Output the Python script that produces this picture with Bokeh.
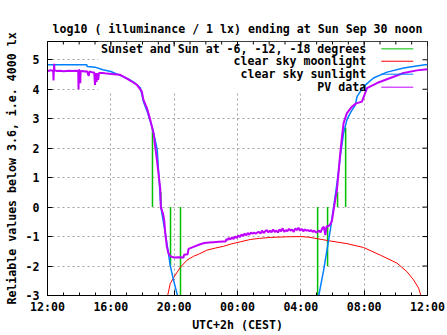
from bokeh.plotting import figure
from bokeh.models import Range1d, FixedTicker
from bokeh.embed import file_html
from bokeh.resources import INLINE
from bokeh.core.properties import value

# ---------------- data (x in hours since Sat 00:00, 12 = 12:00, 36 = next 12:00) ----------------
title_text = "log10 ( illuminance / 1 lx) ending at Sun Sep 30 noon"
x_label = "UTC+2h (CEST)"
y_label = "Reliable values below 3.6, i.e. 4000 lx"

tick_hours = [12, 16, 20, 24, 28, 32, 36]
tick_labels = ["12:00", "16:00", "20:00", "00:00", "04:00", "08:00", "12:00"]
minor_hours = list(range(12, 37))
y_ticks = [-3, -2, -1, 0, 1, 2, 3, 4, 5]
y_tick_labels = ["-3", "-2", "-1", "0", "1", "2", "3", "4", "5"]

# Sunset / sunrise and sun at -6, -12, -18 degrees (impulse-like markers)
event_hours = [18.63, 19.16, 19.77, 20.40, 29.06, 29.69, 30.32, 30.83]
event_low = [0, 0, 0, 0, 0, 0, 0, 0]
event_high = [2.7, 0.5, -2.0, -3.3, -3.3, -2.0, 0.5, 2.7]

# clear sky moonlight
moon_hours = [19.55, 19.75, 19.96, 20.38, 20.81, 21.22, 21.54, 22.07, 22.6, 23.12, 23.6,
              24.17, 24.8, 25.4, 26.07, 27.0, 27.96, 28.5, 29.02, 29.86, 30.91, 31.96,
              33.02, 34.07, 34.70, 35.12, 35.44, 35.61]
moon_vals = [-3.1, -2.6, -2.4, -2.05, -1.8, -1.67, -1.6, -1.46, -1.39, -1.33, -1.25,
             -1.18, -1.1, -1.06, -1.03, -1.01, -1.0, -1.02, -1.07, -1.15, -1.24, -1.37,
             -1.63, -1.9, -2.19, -2.47, -2.75, -3.05]

# clear sky sunlight (evening)
sun_eve_hours = [12.0, 14.49, 14.5, 15.0, 15.5, 16.0, 16.59, 17.2, 17.5, 17.86, 18.06,
                 18.3, 18.6, 18.8, 18.93, 19.01, 19.16, 19.43, 19.64, 19.75, 19.96, 20.21, 20.35]
sun_eve_vals = [4.83, 4.83, 4.77, 4.75, 4.66, 4.6, 4.47, 4.32, 4.22, 4.05, 3.58,
                3.24, 2.73, 2.28, 1.94, 1.26, 0.0, -0.85, -1.57, -1.98, -2.48, -3.0, -3.4]
# clear sky sunlight (morning)
sun_morn_hours = [28.95, 29.12, 29.44, 29.65, 29.86, 30.07, 30.28, 30.49, 30.70, 30.91,
                  31.12, 31.44, 31.55, 31.96, 32.59, 33.44, 34.49, 35.3, 35.86, 36.0]
sun_morn_vals = [-3.4, -3.04, -2.14, -1.46, -0.78, 0.0, 0.8, 1.71, 2.51, 2.96,
                 3.19, 3.47, 3.75, 4.09, 4.38, 4.58, 4.72, 4.79, 4.83, 4.83]

# PV data
pv_hours = [12.0, 12.1, 12.2, 12.3, 12.36, 12.38, 12.40, 12.42, 12.44, 12.6, 12.8, 13.0,
            13.2, 13.4, 13.6, 13.8, 13.94, 13.96, 13.98, 14.05, 14.07, 14.09, 14.2, 14.35,
            14.5, 14.6, 14.65, 14.8, 14.95, 15.0, 15.05, 15.1, 15.15, 15.2, 15.25, 15.5,
            15.75, 16.2, 16.59, 17.02, 17.3, 17.65, 17.96, 18.06, 18.28, 18.49, 18.70,
            18.80, 18.91, 19.01, 19.12, 19.16, 19.29, 19.37, 19.44, 19.54, 19.64, 19.75,
            20.0, 20.3, 20.59, 20.62, 20.85, 20.91, 21.22, 21.6, 21.9, 22.2, 22.5, 22.8,
            23.1, 23.25, 23.3, 23.35, 23.45, 23.55, 23.65, 23.75, 23.85, 23.95, 24.05,
            24.15, 24.25, 24.35, 24.45, 24.55, 24.65, 24.75, 24.85, 24.95, 25.05, 25.15,
            25.25, 25.35, 25.45, 25.55, 25.65, 25.75, 25.85, 25.95, 26.05, 26.15, 26.25,
            26.35, 26.45, 26.55, 26.65, 26.75, 26.85, 26.95, 27.05, 27.15, 27.25, 27.35,
            27.45, 27.55, 27.65, 27.75, 27.85, 27.95, 28.05, 28.15, 28.25, 28.35, 28.45,
            28.55, 28.65, 28.75, 28.85, 28.95, 29.05, 29.15, 29.25, 29.35, 29.45, 29.55,
            29.62, 29.7, 29.8, 29.9, 29.97, 30.07, 30.17, 30.28, 30.38, 30.49, 30.6, 30.7,
            30.91, 31.23, 31.5, 31.86, 32.18, 32.81, 33.65, 34.49, 35.33, 36.0]
pv_vals = [4.64, 4.62, 4.65, 4.63, 4.60, 4.30, 4.62, 4.86, 4.64, 4.62, 4.63, 4.61,
           4.62, 4.63, 4.62, 4.63, 4.62, 4.00, 4.66, 4.62, 4.20, 4.60, 4.62, 4.60,
           4.61, 4.45, 4.60, 4.58, 4.57, 4.15, 4.55, 4.25, 4.55, 4.32, 4.55, 4.55,
           4.53, 4.51, 4.49, 4.36, 4.27, 4.15, 3.92, 3.64, 3.36, 2.96, 2.51,
           2.05, 1.6, 1.14, 0.63, 0.0, -0.21, -0.44, -0.89, -1.35, -1.57, -1.67,
           -1.71, -1.70, -1.71, -1.62, -1.6, -1.42, -1.35, -1.27, -1.22, -1.2, -1.19, -1.18,
           -1.17, -1.17, -1.08, -1.12, -1.05, -1.1, -1.03, -1.08, -1.0, -1.05, -0.96,
           -1.02, -0.93, -0.98, -0.9, -0.96, -0.88, -0.94, -0.86, -0.9, -0.87, -0.9,
           -0.86, -0.84, -0.9, -0.8, -0.88, -0.82, -0.78, -0.86, -0.8, -0.85, -0.76,
           -0.84, -0.8, -0.86, -0.76, -0.82, -0.72, -0.84, -0.78, -0.82, -0.74, -0.8,
           -0.76, -0.84, -0.72, -0.78, -0.7, -0.8, -0.74, -0.82, -0.76, -0.8, -0.78,
           -0.82, -0.78, -0.84, -0.8, -0.86, -0.84, -0.8, -0.86, -0.72, -0.67, -0.95,
           -0.66, -0.65, -0.62, -0.55, -0.44, -0.1, 0.24, 0.58, 1.15, 1.83, 2.39, 2.85,
           3.19, 3.41, 3.52, 3.58, 4.04, 4.21, 4.38, 4.55, 4.64, 4.68]

# key entries
key_labels = ["Sunset and Sun at -6, -12, -18 degrees", "clear sky moonlight",
              "clear sky sunlight", "PV data"]
key_colors = ["#00c000", "#ff0000", "#0080ff", "#c000ff"]

FONT = "DejaVu Sans Mono"
FS = "11.6px"

X0, X1 = 12, 36
Y0, Y1 = -3, 5.62
FRAME_W, FRAME_H = 380, 254
px_x = (X1 - X0) / FRAME_W   # hours per pixel
px_y = (Y1 - Y0) / FRAME_H   # units per pixel

p = figure(width=447, height=335, x_range=Range1d(X0, X1), y_range=Range1d(Y0, Y1),
           output_backend="svg", toolbar_location=None, title=title_text,
           min_border_left=47, min_border_right=20, min_border_top=41, min_border_bottom=40)

p.title.text_font = FONT
p.title.text_font_style = "bold"
p.title.text_font_size = FS
p.title.align = "center"
p.title.text_color = "black"
p.title.standoff = 11

p.outline_line_color = "black"
p.background_fill_color = "white"
p.border_fill_color = "white"

xt = FixedTicker(ticks=tick_hours, minor_ticks=minor_hours)
yt = FixedTicker(ticks=y_ticks, minor_ticks=[])

def style_axis(ax):
    ax.axis_line_color = "black"
    ax.major_tick_line_color = "black"
    ax.minor_tick_line_color = "black"
    ax.major_tick_in = 5
    ax.major_tick_out = 0
    ax.minor_tick_in = 3
    ax.minor_tick_out = 0
    ax.major_label_text_font = FONT
    ax.major_label_text_font_style = "bold"
    ax.major_label_text_font_size = FS
    ax.major_label_text_color = "black"
    ax.axis_label_text_font = FONT
    ax.axis_label_text_font_style = "bold"
    ax.axis_label_text_font_size = FS
    ax.axis_label_text_color = "black"

xax = p.xaxis[0]
xax.ticker = xt
xax.major_label_overrides = {h: l for h, l in zip(tick_hours, tick_labels)}
xax.axis_label = x_label
style_axis(xax)
xax.major_label_standoff = 4
xax.axis_label_standoff = 1

yax = p.yaxis[0]
yax.ticker = yt
yax.major_label_overrides = {v: l for v, l in zip(y_ticks, y_tick_labels)}
yax.axis_label = y_label
style_axis(yax)
yax.major_label_standoff = 8
yax.axis_label_standoff = 4

for g in (p.xgrid[0], p.ygrid[0]):
    g.grid_line_color = "#a0a0a0"
    g.grid_line_dash = "2 3"
    g.grid_line_width = 1
p.xgrid[0].ticker = FixedTicker(ticks=tick_hours)
p.ygrid[0].ticker = FixedTicker(ticks=y_ticks)

# opaque key box (hides the grid behind the key)
p.quad(left=15.2, right=X1, bottom=3.9, top=Y1, fill_color="white", line_color=None)

# mirrored ticks on the top and right border (gnuplot style)
p.segment(x0=tick_hours, y0=[Y1] * len(tick_hours), x1=tick_hours,
          y1=[Y1 - 5 * px_y] * len(tick_hours), line_color="black", line_width=1)
p.segment(x0=minor_hours, y0=[Y1] * len(minor_hours), x1=minor_hours,
          y1=[Y1 - 3 * px_y] * len(minor_hours), line_color="black", line_width=1)
p.segment(x0=[X1] * len(y_ticks), y0=y_ticks, x1=[X1 - 5 * px_x] * len(y_ticks),
          y1=y_ticks, line_color="black", line_width=1)

# series
p.segment(x0=event_hours, y0=event_low, x1=event_hours, y1=event_high,
          line_color=key_colors[0], line_width=1.5)
p.line(moon_hours, moon_vals, line_color=key_colors[1], line_width=1)
p.line(sun_eve_hours, sun_eve_vals, line_color=key_colors[2], line_width=1.5)
p.line(sun_morn_hours, sun_morn_vals, line_color=key_colors[2], line_width=1.5)
p.line(pv_hours, pv_vals, line_color=key_colors[3], line_width=2)

# key (gnuplot style: right-aligned text, sample to the right)
key_y = [5.37, 4.95, 4.51, 4.07]
p.text(x=[32.13] * 4, y=key_y, text=key_labels, text_align="right", text_baseline="middle",
       text_font=value(FONT), text_font_style="bold", text_font_size=FS, text_color="black")
p.segment(x0=[33.08] * 4, y0=key_y, x1=[35.1] * 4, y1=key_y, line_color=key_colors, line_width=1)

open("out.html", "w").write(file_html(p, INLINE))
